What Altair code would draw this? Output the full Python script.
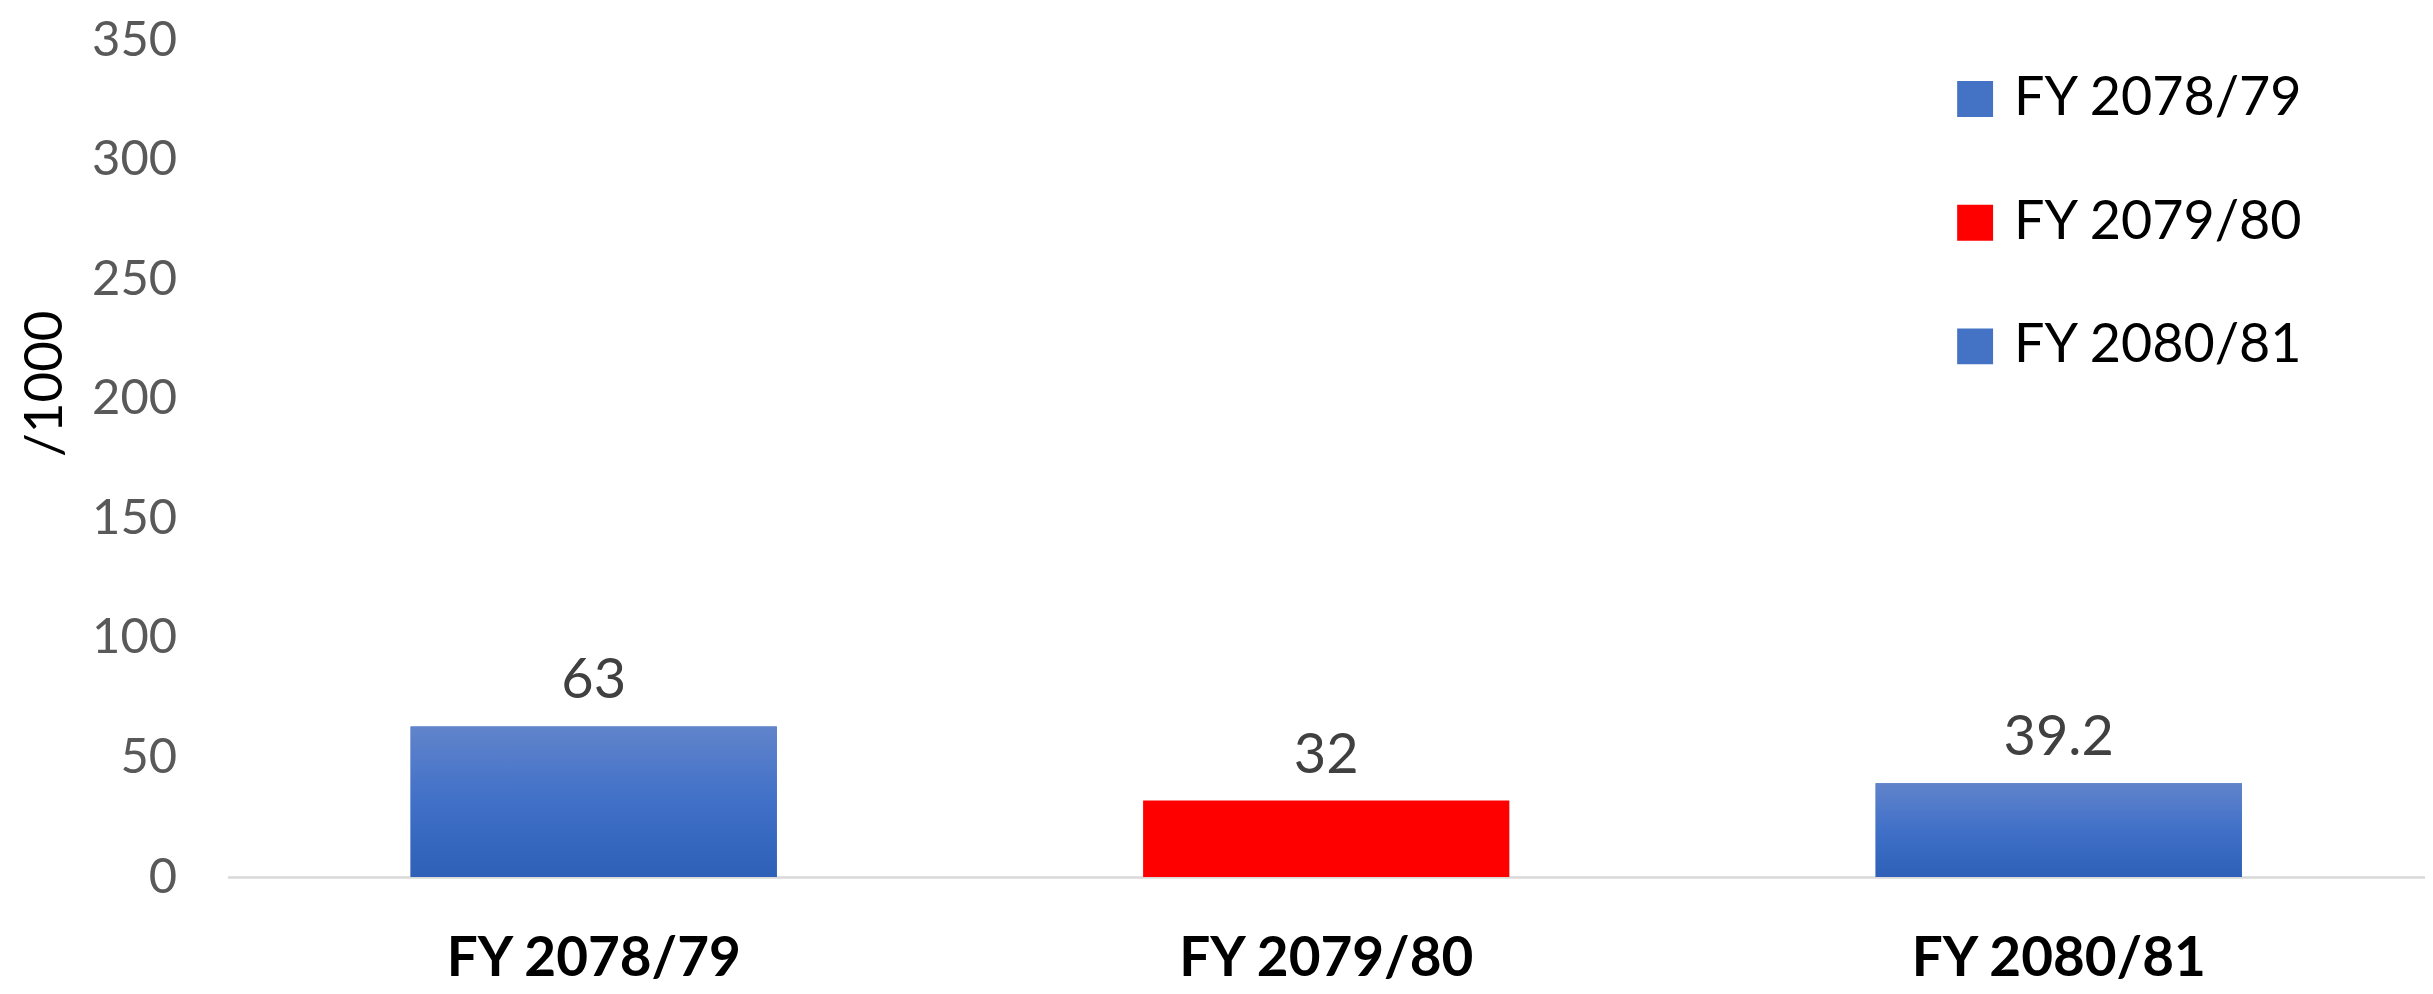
import altair as alt
import pandas as pd

categories = ["FY 2078/79", "FY 2079/80", "FY 2080/81"]
values = [63, 32, 39.2]
value_labels = ["63", "32", "39.2"]
colors = ["#4472c4", "#ff0000", "#4472c4"]
y_ticks = [0, 50, 100, 150, 200, 250, 300, 350]

df = pd.DataFrame({"cat": categories, "val": values, "lbl": value_labels})

FONT = "Lato"

x_enc = alt.X(
    "cat:N",
    sort=categories,
    scale=alt.Scale(paddingInner=0.5, paddingOuter=0.25),
    axis=alt.Axis(
        title=None,
        labelFont=FONT,
        labelFontSize=55,
        labelFontWeight="bold",
        labelColor="#000000",
        labelAngle=0,
        labelPadding=56,
        labelLimit=0,
        ticks=False,
        domain=True,
        domainColor="#d9d9d9",
        domainWidth=2.5,
    ),
)
y_enc = alt.Y(
    "val:Q",
    scale=alt.Scale(domain=[0, 350], nice=False),
    axis=alt.Axis(
        title="/1000",
        titleFont=FONT,
        titleFontSize=53,
        titleFontWeight="normal",
        titleColor="#000000",
        titleAngle=270,
        titleX=-182,
        titleY=344,
        titleAlign="center",
        titleBaseline="middle",
        values=y_ticks,
        labelFont=FONT,
        labelFontSize=49,
        labelColor="#595959",
        labelPadding=51,
        ticks=False,
        domain=False,
        grid=False,
    ),
)

base = alt.Chart(df)

bars = base.mark_bar().encode(
    x=x_enc,
    y=y_enc,
    color=alt.Color(
        "cat:N",
        sort=categories,
        scale=alt.Scale(domain=categories, range=colors),
        legend=alt.Legend(
            title=None,
            orient="none",
            legendX=1725,
            legendY=32,
            direction="vertical",
            symbolType="square",
            symbolSize=1296,
            symbolStrokeWidth=0,
            symbolOpacity=1,
            labelFont=FONT,
            labelFontSize=54,
            labelColor="#000000",
            labelOffset=12,
            labelLimit=0,
            rowPadding=70,
            padding=0,
        ),
    ),
)

gradient = alt.Gradient(
    gradient="linear",
    stops=[
        alt.GradientStop(color="#6184cb", offset=0),
        alt.GradientStop(color="#4070c8", offset=0.5),
        alt.GradientStop(color="#2e60b8", offset=1),
    ],
    x1=0, x2=0, y1=0, y2=1,
)

blue_overlay = base.mark_bar(color=gradient).encode(
    x=alt.X("cat:N", sort=categories),
    y=alt.Y("val:Q"),
).transform_filter(alt.FieldOneOfPredicate(field="cat", oneOf=["FY 2078/79", "FY 2080/81"]))

text = base.mark_text(
    font=FONT, fontSize=56, color="#404040", baseline="alphabetic", dy=-28
).encode(
    x=alt.X("cat:N", sort=categories),
    y=alt.Y("val:Q"),
    text="lbl:N",
)

chart = (
    alt.layer(bars, blue_overlay, text)
    .properties(
        width=2203,
        height=839,
        autosize=alt.AutoSizeParams(type="none"),
        padding={"left": 220, "top": 31, "right": 0, "bottom": 114},
        background="white",
    )
    .configure_view(stroke=None)
)

chart.save("out.html", embed_options={"renderer": "svg", "actions": False})
